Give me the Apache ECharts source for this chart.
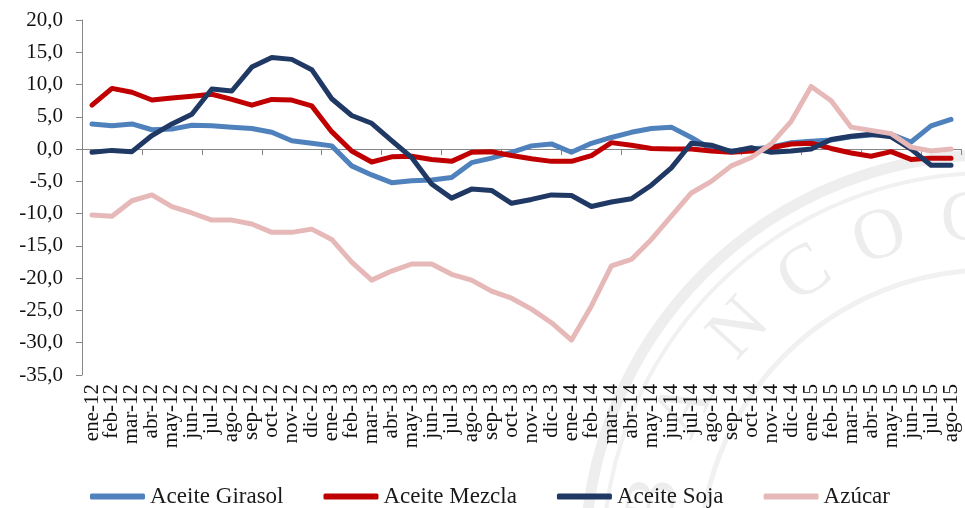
<!DOCTYPE html>
<html>
<head>
<meta charset="utf-8">
<script src="https://cdn.jsdelivr.net/npm/echarts@6/dist/echarts.min.js"></script>
<style>
  html, body { margin: 0; padding: 0; background: #ffffff; }
  #chart { width: 965px; height: 508px; }
</style>
</head>
<body>
<div id="chart"></div>
<script>
// Monthly categories, Jan 2012 - Aug 2015
const meses = [
  'ene-12','feb-12','mar-12','abr-12','may-12','jun-12','jul-12','ago-12','sep-12','oct-12','nov-12','dic-12',
  'ene-13','feb-13','mar-13','abr-13','may-13','jun-13','jul-13','ago-13','sep-13','oct-13','nov-13','dic-13',
  'ene-14','feb-14','mar-14','abr-14','may-14','jun-14','jul-14','ago-14','sep-14','oct-14','nov-14','dic-14',
  'ene-15','feb-15','mar-15','abr-15','may-15','jun-15','jul-15','ago-15'
];

// Year-on-year variation (%)
const aceiteGirasol = [
  3.9, 3.6, 3.9, 3.0, 3.1, 3.7, 3.6, 3.4, 3.2, 2.6, 1.3, 0.9,
  0.5, -2.6, -4.0, -5.2, -4.9, -4.8, -4.4, -2.1, -1.4, -0.5, 0.5, 0.8,
  -0.5, 0.9, 1.8, 2.6, 3.2, 3.4, 1.8, 0.0, -0.3, 0.0, 0.3, 1.0,
  1.2, 1.4, 1.9, 2.2, 2.3, 1.1, 3.6, 4.6
];
const aceiteMezcla = [
  6.8, 9.4, 8.8, 7.6, 7.9, 8.2, 8.5, 7.7, 6.8, 7.7, 7.6, 6.7,
  2.7, -0.3, -2.0, -1.2, -1.1, -1.6, -1.9, -0.5, -0.4, -1.0, -1.5, -1.9,
  -1.9, -1.0, 1.0, 0.6, 0.1, 0.0, 0.0, -0.3, -0.5, -0.3, 0.2, 0.8,
  0.9, 0.1, -0.6, -1.1, -0.4, -1.6, -1.4, -1.4
];
const aceiteSoja = [
  -0.5, -0.2, -0.4, 2.1, 3.9, 5.4, 9.3, 9.0, 12.7, 14.2, 13.9, 12.3,
  7.8, 5.2, 4.0, 1.3, -1.3, -5.4, -7.6, -6.2, -6.4, -8.4, -7.8, -7.1,
  -7.2, -8.9, -8.2, -7.7, -5.6, -2.9, 0.9, 0.6, -0.4, 0.2, -0.5, -0.3,
  0.0, 1.5, 2.0, 2.3, 1.9, 0.0, -2.5, -2.5
];
const azucar = [
  -10.2, -10.4, -8.0, -7.1, -8.9, -9.9, -11.0, -11.0, -11.6, -12.9, -12.9, -12.4,
  -14.0, -17.5, -20.3, -18.9, -17.8, -17.8, -19.4, -20.3, -22.0, -23.1, -24.8, -26.9,
  -29.6, -24.3, -18.1, -17.1, -14.0, -10.4, -6.8, -5.0, -2.6, -1.3, 0.8, 4.3,
  9.7, 7.5, 3.4, 2.9, 2.4, 0.3, -0.3, 0.0
];

const seriesNames = ['Aceite Girasol', 'Aceite Mezcla', 'Aceite Soja', 'Azúcar'];
const seriesColors = ['#4f81bd', '#c00000', '#1f3864', '#e6b9b8'];
const seriesData = [aceiteGirasol, aceiteMezcla, aceiteSoja, azucar];

const FONT = '"Liberation Serif", "DejaVu Serif", serif';
const AXIS_GREY = '#868686';

const chart = echarts.init(document.getElementById('chart'), null, { renderer: 'canvas' });

// faint seal in the background, centred below the lower right corner
const SEAL_CX = 990, SEAL_CY = 560, SEAL_TEXT_R = 340;
const sealLetters = [
  { ch: 'B', dx: -335 },
  { ch: 'A', dx: -305 },
  { ch: 'N', dx: -250 },
  { ch: 'C', dx: -185 },
  { ch: 'O', dx: -110 },
  { ch: 'C', dx: -25 }
];

const sealGraphics = [
  { type: 'circle', z: 0, silent: true,
    shape: { cx: SEAL_CX, cy: SEAL_CY, r: 405 },
    style: { fill: 'none', stroke: '#eeeeee', lineWidth: 11 } },
  { type: 'circle', z: 0, silent: true,
    shape: { cx: SEAL_CX, cy: SEAL_CY, r: 387 },
    style: { fill: 'none', stroke: '#f1f1f1', lineWidth: 4 } },
  { type: 'circle', z: 0, silent: true,
    shape: { cx: SEAL_CX, cy: SEAL_CY, r: 290 },
    style: { fill: 'none', stroke: '#f1f1f1', lineWidth: 5 } }
].concat(sealLetters.map(function (l) {
  const ang = Math.asin(l.dx / SEAL_TEXT_R);
  return {
    type: 'text', z: 0, silent: true,
    x: SEAL_CX + l.dx,
    y: SEAL_CY - Math.cos(ang) * SEAL_TEXT_R,
    rotation: -ang,
    style: {
      text: l.ch, fill: '#ededed', font: '72px ' + FONT,
      textAlign: 'center', textVerticalAlign: 'middle'
    }
  };
}));

chart.setOption({
  backgroundColor: '#ffffff',
  animation: false,
  graphic: sealGraphics,
  grid: { left: 82, right: 4, top: 20, bottom: 133, containLabel: false },
  legend: {
    data: seriesNames,
    left: 85,
    top: 480,
    icon: 'roundRect',
    itemWidth: 55,
    itemHeight: 6,
    itemGap: 40,
    textStyle: { fontFamily: FONT, fontSize: 23, color: '#1a1a1a' }
  },
  xAxis: [
    {
      // axis line crossing at zero with its tick marks
      type: 'category',
      data: meses,
      boundaryGap: true,
      axisLine: { show: true, onZero: true, lineStyle: { color: AXIS_GREY, width: 1 } },
      axisTick: { show: true, length: 6, inside: false, lineStyle: { color: AXIS_GREY } },
      axisLabel: { show: false },
      splitLine: { show: false }
    },
    {
      // month labels along the bottom edge
      type: 'category',
      data: meses,
      position: 'bottom',
      boundaryGap: true,
      axisLine: { show: false, onZero: false },
      axisTick: { show: false },
      axisLabel: {
        show: true, interval: 0, rotate: 90, margin: 9,
        fontFamily: FONT, fontSize: 21, color: '#111111'
      },
      splitLine: { show: false }
    }
  ],
  yAxis: {
    type: 'value',
    min: -35,
    max: 20,
    interval: 5,
    axisLine: { show: true, lineStyle: { color: AXIS_GREY, width: 1 } },
    axisTick: { show: true, length: 6, lineStyle: { color: AXIS_GREY } },
    splitLine: { show: false },
    axisLabel: {
      margin: 19,
      fontFamily: FONT, fontSize: 21, color: '#111111',
      formatter: function (v) { return v.toFixed(1).replace('.', ','); }
    }
  },
  series: seriesNames.map(function (name, i) {
    return {
      name: name,
      type: 'line',
      xAxisIndex: 0,
      data: seriesData[i],
      symbol: 'none',
      smooth: false,
      z: 2,
      lineStyle: { color: seriesColors[i], width: 5, join: 'round', cap: 'round' },
      itemStyle: { color: seriesColors[i] }
    };
  })
});
</script>
</body>
</html>
